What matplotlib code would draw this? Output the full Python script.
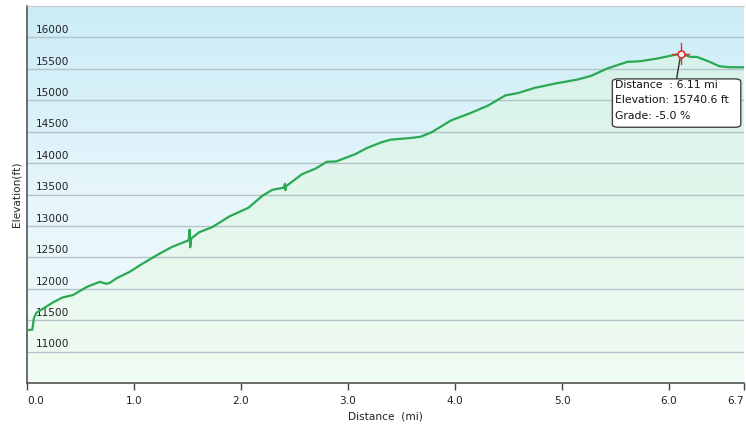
import matplotlib

matplotlib.use("Agg")
import matplotlib.pyplot as plt
import numpy as np
from matplotlib.colors import LinearSegmentedColormap
from matplotlib.patches import FancyBboxPatch

# elevation profile
distance_mi = [
    0.00, 0.05, 0.065, 0.09, 0.24, 0.33, 0.43, 0.56, 0.68, 0.74, 0.77, 0.84,
    0.96, 1.08, 1.24, 1.36, 1.51, 1.52, 1.525, 1.535, 1.61, 1.73, 1.89, 1.98,
    2.07, 2.20, 2.29, 2.40, 2.41, 2.415, 2.42, 2.57, 2.70, 2.80, 2.89, 3.07,
    3.17, 3.31, 3.40, 3.59, 3.68, 3.78, 3.96, 4.15, 4.31, 4.47, 4.59, 4.74,
    4.93, 5.14, 5.27, 5.42, 5.61, 5.73, 5.89, 6.01, 6.11, 6.20, 6.26, 6.38,
    6.47, 6.57, 6.67, 6.70,
]
elevation_ft = [
    11340, 11350, 11540, 11620, 11780, 11860, 11900, 12030, 12110, 12080, 12090, 12170,
    12270, 12400, 12560, 12670, 12770, 12940, 12660, 12800, 12900, 12980, 13150, 13220,
    13290, 13480, 13573, 13610, 13670, 13570, 13630, 13824, 13915, 14020, 14027, 14144,
    14235, 14330, 14373, 14400, 14420, 14490, 14677, 14800, 14917, 15077, 15115, 15195,
    15264, 15328, 15387, 15504, 15611, 15621, 15664, 15707, 15740, 15690, 15690, 15611,
    15541, 15525, 15525, 15525,
]

y_ticks = [11000, 11500, 12000, 12500, 13000, 13500, 14000, 14500, 15000, 15500, 16000]
x_ticks = [0.0, 1.0, 2.0, 3.0, 4.0, 5.0, 6.0, 6.7]
x_tick_labels = ["0.0", "1.0", "2.0", "3.0", "4.0", "5.0", "6.0", "6.7"]

marker_mi = 6.11
marker_ft = 15740.6
tooltip_lines = ["Distance  : 6.11 mi", "Elevation: 15740.6 ft", "Grade: -5.0 %"]

plt.rcParams["font.family"] = ["DejaVu Sans"]

fig = plt.figure(figsize=(7.46, 4.28), dpi=100)
ax = fig.add_axes([27 / 746, 45 / 428, 717 / 746, 377 / 428])
xmin, xmax, ymin, ymax = 0, 6.7, 10500, 16500
ax.set_xlim(xmin, xmax)
ax.set_ylim(ymin, ymax)

# sky gradient behind everything
sky = LinearSegmentedColormap.from_list("sky", ["#f3fbfd", "#e6f6fb", "#cbecf7"])
grad = np.linspace(0, 1, 256).reshape(-1, 1)
ax.imshow(grad, cmap=sky, origin="lower", aspect="auto",
          extent=[xmin, xmax, ymin, ymax], zorder=0)

# green gradient under the profile
green = LinearSegmentedColormap.from_list("green", ["#f1fcf3", "#e4f7ec", "#d6f2ea"])
fill = ax.fill_between(distance_mi, elevation_ft, ymin, color="none", zorder=1)
ground = ax.imshow(grad, cmap=green, origin="lower", aspect="auto",
                   extent=[xmin, xmax, ymin, 15800], zorder=1)
ground.set_clip_path(fill.get_paths()[0], transform=ax.transData)

for yt in y_ticks:
    ax.axhline(yt, color="#b4c3c9", lw=1.0, zorder=2)
    ax.text(0.08, yt + 35, str(yt), fontsize=7.6, color="#222222",
            ha="left", va="bottom", zorder=3)

ax.plot(distance_mi, elevation_ft, color="#2aa852", lw=1.6, zorder=4)

# hover marker + tooltip
ax.plot([marker_mi, marker_mi], [marker_ft - 170, marker_ft + 170], color="#e03030", lw=1, zorder=6)
ax.plot([marker_mi - 0.08, marker_mi + 0.08], [marker_ft, marker_ft], color="#e03030", lw=1, zorder=6)
ax.plot(marker_mi, marker_ft, "o", ms=5, mfc="white", mec="#e03030", mew=1.2, zorder=7)
ax.plot([marker_mi, marker_mi - 0.04], [marker_ft, 15340], color="#333333", lw=1, zorder=5)
box = FancyBboxPatch((5.47, 14570), 1.2, 770, boxstyle="round,pad=0,rounding_size=0.06",
                     mutation_aspect=700, fc="white", ec="#444444", lw=1, zorder=8)
ax.add_patch(box)
for i, line in enumerate(tooltip_lines):
    ax.text(5.495, 15250 - i * 250, line, fontsize=7.8, color="#111111",
            ha="left", va="center", zorder=9)

ax.set_xticks(x_ticks)
ax.set_xticklabels(x_tick_labels, fontsize=7.6, color="#222222")
labels = ax.get_xticklabels()
labels[0].set_horizontalalignment("left")
labels[-1].set_horizontalalignment("right")
ax.set_yticks([])
ax.tick_params(axis="x", length=5, width=1, color="#444444", pad=4)

for side in ("left", "bottom"):
    ax.spines[side].set_color("#555555")
    ax.spines[side].set_linewidth(1.2)
ax.spines["top"].set_color("#c8c8c8")
ax.spines["right"].set_visible(False)

ax.set_xlabel("Distance  (mi)", fontsize=7.6, color="#222222", labelpad=4)
ax.set_ylabel("Elevation(ft)", fontsize=7.6, color="#222222", labelpad=4)

fig.savefig("out.png", dpi=100)
